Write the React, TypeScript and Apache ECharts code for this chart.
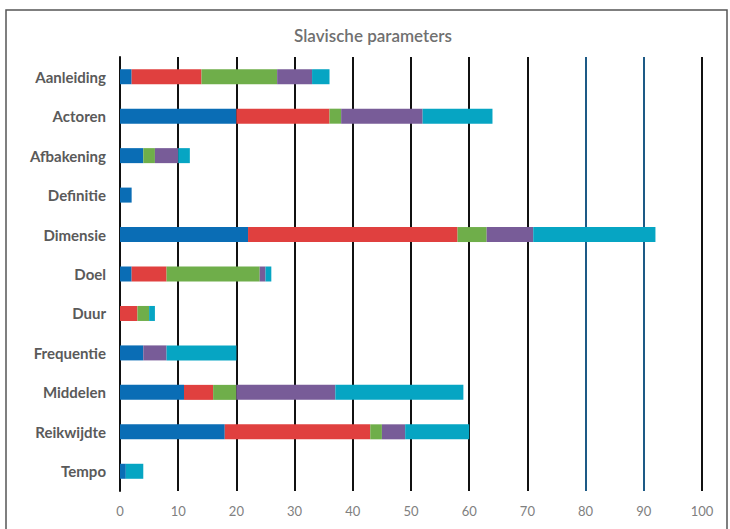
import React, { useEffect, useRef } from "react";
import * as echarts from "echarts";

const categories = [
  "Aanleiding", "Actoren", "Afbakening", "Definitie", "Dimensie", "Doel",
  "Duur", "Frequentie", "Middelen", "Reikwijdte", "Tempo",
];
const series1 = [2, 20, 4, 2, 22, 2, 0, 4, 11, 18, 1];
const series2 = [12, 16, 0, 0, 36, 6, 3, 0, 5, 25, 0];
const series3 = [13, 2, 2, 0, 5, 16, 2, 0, 4, 2, 0];
const series4 = [6, 14, 4, 0, 8, 1, 0, 4, 17, 4, 0];
const series5 = [3, 12, 2, 0, 21, 1, 1, 12, 22, 11, 3];
const seriesNames = ["Reeks 1", "Reeks 2", "Reeks 3", "Reeks 4", "Reeks 5"];
const xTicks = [0, 10, 20, 30, 40, 50, 60, 70, 80, 90, 100];
const colors = ["#0a6db5", "#e0403f", "#6fae4a", "#785c98", "#06a5c3"];

export default function App() {
  const ref = useRef<HTMLDivElement>(null);
  useEffect(() => {
    if (!ref.current) return;
    const chart = echarts.init(ref.current, undefined, { renderer: "svg" });
    const data = [series1, series2, series3, series4, series5];
    const gridColors = xTicks.map((t) => (t === 80 || t === 90 ? "#1d5a86" : "#111111"));
    chart.setOption({
      animation: false,
      backgroundColor: "#ffffff",
      graphic: [
        {
          type: "rect",
          shape: { x: 6, y: 10, width: 721, height: 540 },
          style: { fill: "none", stroke: "#555555", lineWidth: 1.5 },
          silent: true,
        },
        {
          type: "text",
          x: 373,
          y: 35,
          style: {
            text: "Slavische parameters",
            fontFamily: "Lato",
            fontSize: 17,
            fontWeight: 600,
            fill: "#707070",
            textAlign: "center",
            textVerticalAlign: "middle",
          },
          silent: true,
        },
      ],
      grid: { left: 120, right: 28, top: 57, bottom: 38 },
      xAxis: {
        type: "value",
        min: 0,
        max: 100,
        interval: 10,
        axisLine: { show: false },
        axisTick: { show: false },
        axisLabel: { fontFamily: "Lato", fontSize: 13, color: "#808080", margin: 13 },
        splitLine: { show: true, lineStyle: { color: gridColors, width: 2 } },
      },
      yAxis: {
        type: "category",
        data: categories,
        inverse: true,
        axisLine: { show: true, lineStyle: { color: "#111111", width: 2 } },
        axisTick: { show: false },
        axisLabel: { fontFamily: "Lato", fontSize: 15, fontWeight: "bold", color: "#5a5a5a", margin: 14 },
      },
      series: data.map((d, i) => ({
        name: seriesNames[i],
        type: "bar",
        stack: "total",
        data: d,
        barWidth: 15,
        itemStyle: { color: colors[i] },
        z: 3,
      })),
    });
    return () => chart.dispose();
  }, []);
  return (
    <div
      ref={ref}
      style={{ position: "absolute", left: 0, top: 0, width: 730, height: 529 }}
    />
  );
}
